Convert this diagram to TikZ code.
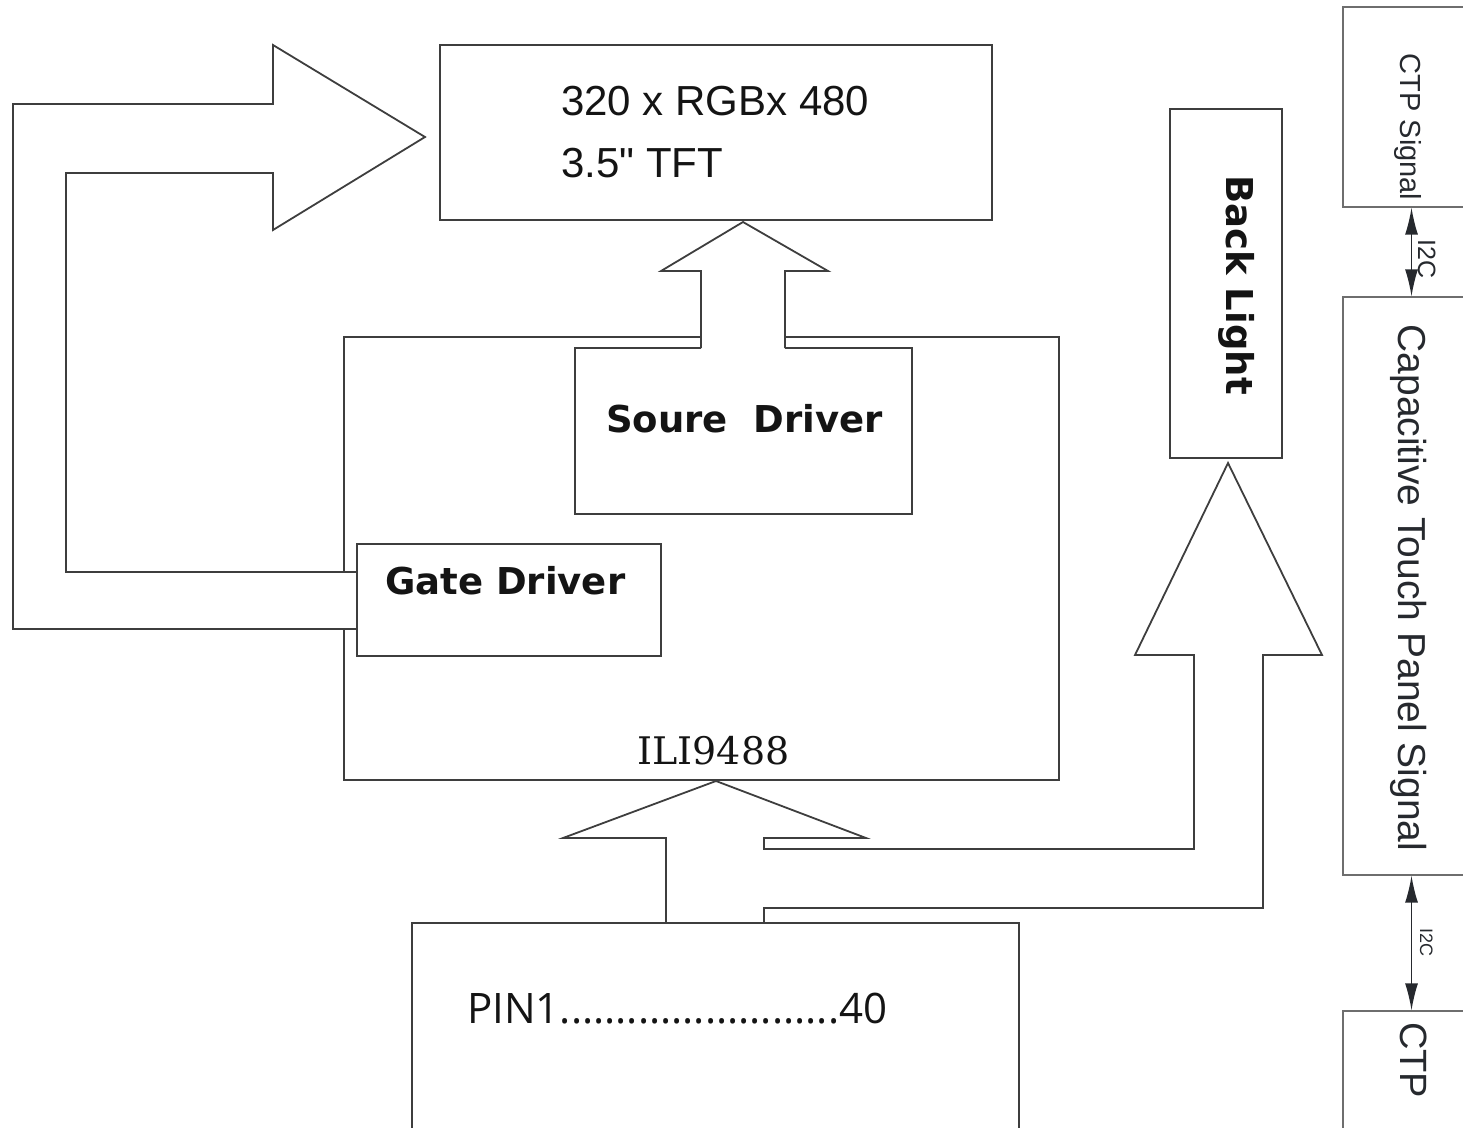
\documentclass[tikz,border=0pt]{standalone}
\usepackage{fontspec}
\setmainfont{Liberation Sans}
\newfontfamily\tftfont{Liberation Sans}
\newfontfamily\djsans{DejaVu Sans}
\newfontfamily\djserif{DejaVu Serif}
\newfontfamily\osans{Open Sans}
\usetikzlibrary{arrows.meta}
\definecolor{lncol}{HTML}{3E3E3E}
\definecolor{rcol}{HTML}{6E6E6E}
\definecolor{txt}{HTML}{141414}
\definecolor{rtxt}{HTML}{26292E}
\tikzset{
  ln/.style={draw=lncol, line width=2.2pt},
  fat/.style={draw=lncol, line width=1.8pt, line join=miter},
  box/.style={draw=lncol, line width=2.2pt, rectangle, inner sep=0pt},
  rbox/.style={draw=rcol, line width=1.3pt, rectangle, inner sep=0pt},
  lbl/.style={inner sep=0pt, text=txt},
  rlbl/.style={inner sep=0pt, text=rtxt, rotate=-90, anchor=base},
  i2carrow/.style={draw=rtxt, line width=1.4pt, {Latex[length=27pt,width=13pt]}-{Latex[length=27pt,width=13pt]}},
}
\begin{document}
\begin{tikzpicture}[x=1pt,y=-1pt]
\useasboundingbox (0,0) rectangle (1463,1127);

% TFT panel
\node[box, minimum width=552pt, minimum height=175pt] (tft) at (716,132.5) {};
\node[lbl, anchor=base west, font=\tftfont\fontsize{42}{42}\selectfont] (tfta) at (561,115) {320 x RGBx 480};
\node[lbl, anchor=base west, font=\tftfont\fontsize{42}{42}\selectfont] (tftb) at (561,177) {3.5" TFT};

% ILI9488 outline (open where the arrows pass)
\draw[ln] (701,337) -- (344,337) -- (344,572);
\draw[ln] (344,629) -- (344,780) -- (1059,780) -- (1059,337) -- (785,337);
\node[lbl, anchor=base, font=\djserif\fontsize{38}{38}\selectfont] (ili) at (713.5,764) {ILI9488};

% Source driver (open at the top where the arrow leaves)
\draw[ln] (701,348) -- (575,348) -- (575,514) -- (912,514) -- (912,348) -- (785,348);
\node[lbl, anchor=base west, font=\djsans\bfseries\fontsize{37}{37}\selectfont] (src) at (606,432) {Soure\ \ Driver};

% Gate driver
\node[box, minimum width=304pt, minimum height=112pt] (gate) at (509,600) {};
\node[lbl, anchor=base west, font=\djsans\bfseries\fontsize{37}{37}\selectfont] (gatel) at (385,594) {Gate Driver};

% Back light
\node[box, minimum width=112pt, minimum height=349pt] (bl) at (1226,283.5) {};
\node[lbl, rotate=-90, anchor=base, font=\djsans\bfseries\fontsize{37}{37}\selectfont] (bll) at (1226,285) {Back Light};

% PIN connector
\node[box, minimum width=607pt, minimum height=217pt] (pin) at (715.5,1031.5) {};
\node[lbl, anchor=base west, font=\osans\fontsize{42}{42}\selectfont] (pinl) at (467,1023) {PIN1.........................40};

% Fat arrow: source driver -> TFT
\draw[fat] (701,348) -- (701,271) -- (661,271) -- (743,222) -- (828,271) -- (785,271) -- (785,348);

% Fat arrow: gate driver -> TFT
\draw[fat] (357,629) -- (13,629) -- (13,104) -- (273,104) -- (273,45) -- (425,137)
  -- (273,230) -- (273,173) -- (66,173) -- (66,572) -- (357,572);

% Fat arrow: PIN -> ILI9488 and Back light
\draw[fat] (666,923) -- (666,838) -- (563,838) -- (716,781) -- (866,838) -- (764,838)
  -- (764,849) -- (1194,849) -- (1194,655) -- (1135,655) -- (1228,463) -- (1322,655)
  -- (1263,655) -- (1263,908) -- (764,908) -- (764,923);

% Right column
\node[rbox, minimum width=137pt, minimum height=200pt] (ctps) at (1411.5,107) {};
\node[rlbl, font=\fontsize{29}{29}\selectfont] (ctpsl) at (1400,127) {CTP Signal};
\node[rbox, minimum width=137pt, minimum height=578pt] (cap) at (1411.5,586) {};
\node[rlbl, font=\fontsize{39}{39}\selectfont] (capl) at (1398,588) {Capacitive Touch Panel Signal};
\node[rbox, minimum width=137pt, minimum height=140pt] (ctp) at (1411.5,1081) {};
\node[rlbl, font=\fontsize{38}{38}\selectfont] (ctpl) at (1400,1060) {CTP};

\draw[i2carrow] (ctps.south) -- (cap.north);
\node[rlbl, font=\fontsize{25}{25}\selectfont] (i2ca) at (1418,259) {I2C};
\draw[i2carrow] (cap.south) -- (ctp.north);
\node[rlbl, font=\fontsize{18}{18}\selectfont] (i2cb) at (1420,942) {I2C};
\end{tikzpicture}
\end{document}
